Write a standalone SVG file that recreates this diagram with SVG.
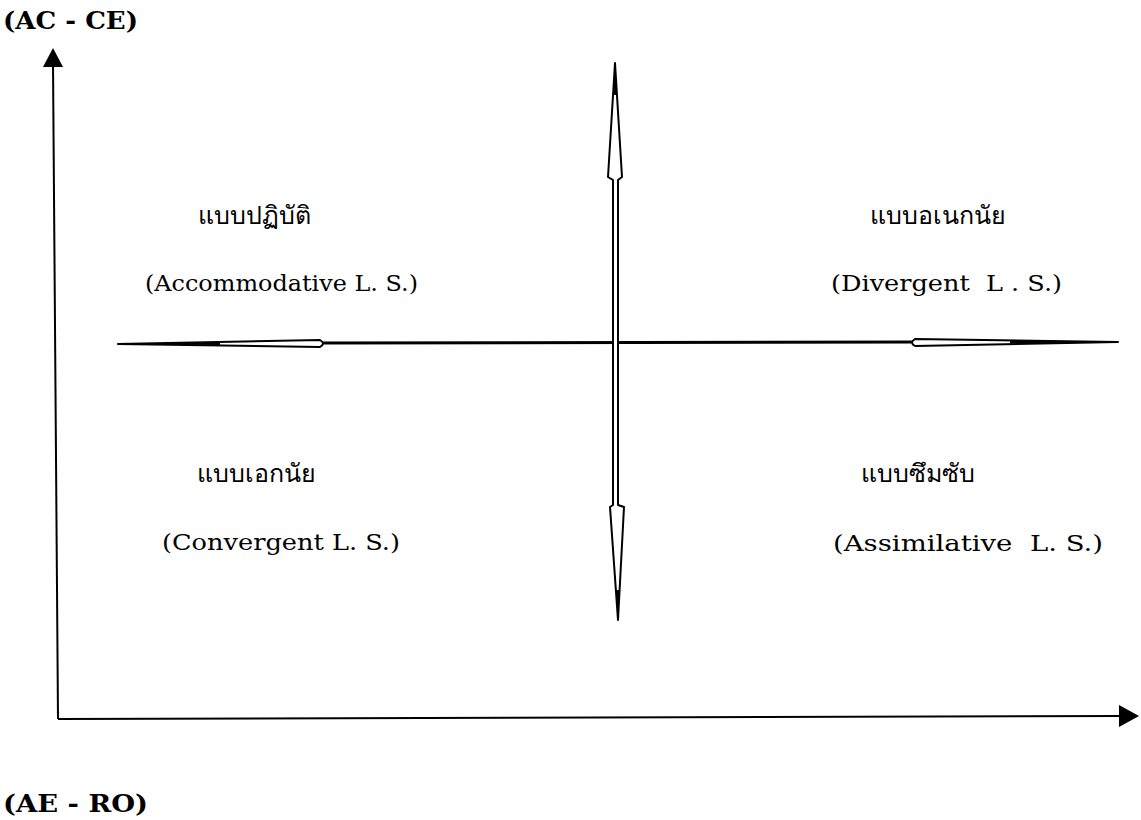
<svg xmlns="http://www.w3.org/2000/svg" width="1141" height="820" viewBox="0 0 1141 820">
<style>
.en{font-family:"DejaVu Serif","Liberation Serif",serif;font-size:23px;fill:#000}
.th{font-family:"Noto Sans","DejaVu Sans",sans-serif;font-size:25px;fill:#000}
.ax{font-family:"DejaVu Serif","Liberation Serif",serif;font-size:25px;font-weight:bold;fill:#000}
.ln{stroke:#000;fill:none;stroke-width:2}
.hol{stroke:#000;fill:#fff;stroke-width:2;stroke-linejoin:round}
</style>
<rect width="1141" height="820" fill="#fff"/>
<g id="connectors">
  <line class="ln" x1="58" y1="719" x2="53" y2="64"/>
  <polygon points="53,48 63,67 43,67" fill="#000"/>
  <line class="ln" x1="58" y1="719" x2="1121" y2="716"/>
  <polygon points="1119,705 1139,716 1119,727" fill="#000"/>
  <line x1="320" y1="343" x2="915" y2="342" stroke="#000" stroke-width="3"/>
  <path class="hol" d="M118,344 L320,340 Q326,343.5 320,347 Z"/>
  <path d="M118,344 L220,342 L220,345 Z" fill="#000"/>
  <path class="hol" d="M1118,342 L915,339 Q909,342.5 915,346 Z"/>
  <path d="M1118,342 L1010,340.5 L1010,343.5 Z" fill="#000"/>
  <path class="hol" d="M615,63 L622,177 L618,180 L618,505 L624,507 L618,620 L610,507 L613,505 L613,180 L608,177 Z"/>
  <path d="M615,63 L617,95 L613,95 Z" fill="#000"/>
  <path d="M618,620 L620,590 L616,590 Z" fill="#000"/>
</g>
<g id="node-axis-y"><text class="ax" x="3" y="29" textLength="135" lengthAdjust="spacingAndGlyphs">(AC - CE)</text></g>
<g id="node-axis-x"><text class="ax" x="3" y="812" textLength="145" lengthAdjust="spacingAndGlyphs">(AE - RO)</text></g>
<g id="node-accommodative">
  <text class="th" x="254" y="224" text-anchor="middle">แบบปฏิบัติ</text>
  <text class="en" x="145" y="291" textLength="273" lengthAdjust="spacingAndGlyphs">(Accommodative L. S.)</text>
</g>
<g id="node-divergent">
  <text class="th" x="938" y="224" text-anchor="middle">แบบอเนกนัย</text>
  <text class="en" x="831" y="291" textLength="231" lengthAdjust="spacingAndGlyphs" xml:space="preserve">(Divergent  L . S.)</text>
</g>
<g id="node-convergent">
  <text class="th" x="256" y="482" text-anchor="middle">แบบเอกนัย</text>
  <text class="en" x="162" y="550" textLength="238" lengthAdjust="spacingAndGlyphs">(Convergent L. S.)</text>
</g>
<g id="node-assimilative">
  <text class="th" x="918" y="482" text-anchor="middle">แบบซึมซับ</text>
  <text class="en" x="833" y="551" textLength="270" lengthAdjust="spacingAndGlyphs" xml:space="preserve">(Assimilative  L. S.)</text>
</g>
</svg>
